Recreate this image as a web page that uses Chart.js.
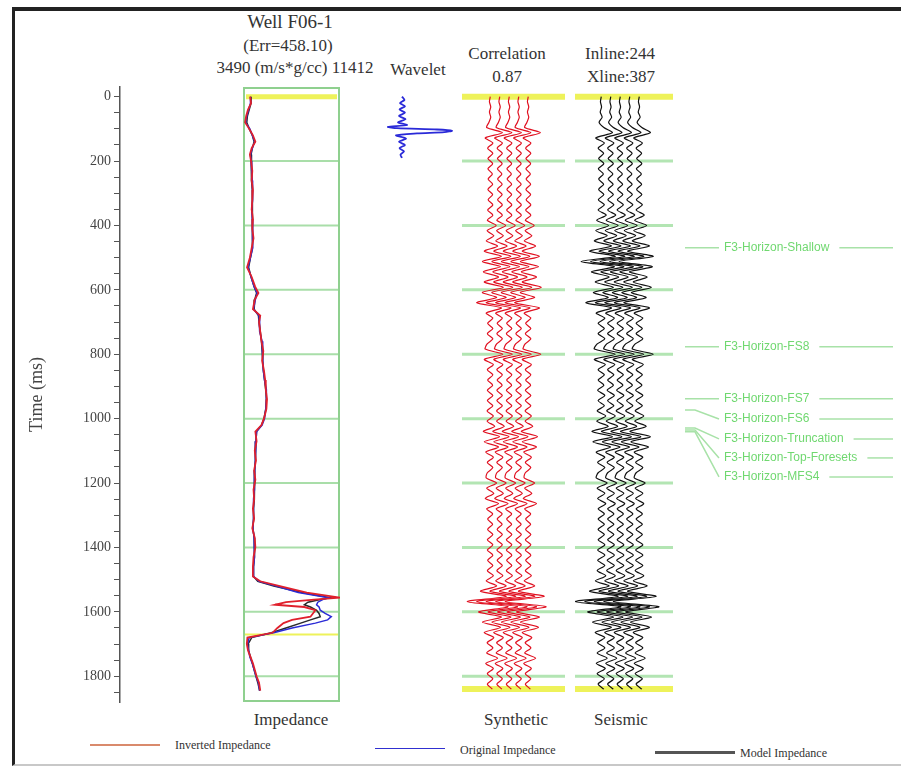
<!DOCTYPE html>
<html lang="en">
<head>
<meta charset="UTF-8">
<title>Well F06-1 well tie</title>
<script src="https://cdn.jsdelivr.net/npm/chart.js"></script>
<style>
  body { margin: 0; background: #fff; }
  #page { position: relative; width: 901px; height: 767px; overflow: hidden; font-family: "Liberation Serif", serif; color: #333; }
  #page canvas { position: absolute; top: 0; }
  .frame { position: absolute; left: 12px; top: 7px; width: 900px; height: 753px; border-top: 4px solid #222; border-left: 3px solid #222; border-bottom: 2px solid #c8c8c8; }
  .t { position: absolute; transform: translate(-50%, -50%); white-space: nowrap; font-size: 17px; }
  .lg { position: absolute; }
  .lgt { position: absolute; font-size: 12px; transform: translateY(-50%); white-space: nowrap; }
</style>
</head>
<body>
<div id="page">
  <div class="frame"></div>

  <div class="t" style="left:290px; top:22px; font-size:19px;">Well F06-1</div>
  <div class="t" style="left:288px; top:46px;">(Err=458.10)</div>
  <div class="t" style="left:295px; top:68px;">3490 (m/s*g/cc) 11412</div>
  <div class="t" style="left:418px; top:70px;">Wavelet</div>
  <div class="t" style="left:507px; top:54px;">Correlation</div>
  <div class="t" style="left:507px; top:77px;">0.87</div>
  <div class="t" style="left:620px; top:54px;">Inline:244</div>
  <div class="t" style="left:621px; top:77px;">Xline:387</div>
  <div class="t" style="left:291px; top:720px;">Impedance</div>
  <div class="t" style="left:516px; top:720px;">Synthetic</div>
  <div class="t" style="left:621px; top:720px;">Seismic</div>

  <div class="lg" style="left:90px; top:744px; width:70px; height:2px; background:#d98a6c;"></div>
  <div class="lgt" style="left:175px; top:745px;">Inverted Impedance</div>
  <div class="lg" style="left:375px; top:748px; width:70px; height:1px; background:#3030d0;"></div>
  <div class="lgt" style="left:460px; top:750px;">Original Impedance</div>
  <div class="lg" style="left:655px; top:751px; width:80px; height:3px; background:#555;"></div>
  <div class="lgt" style="left:740px; top:753px;">Model Impedance</div>

  <canvas id="axisChart" width="130" height="767" style="left:0px;"></canvas>
  <canvas id="impChart" width="97" height="767" style="left:243px;"></canvas>
  <canvas id="waveChart" width="90" height="767" style="left:375px;"></canvas>
  <canvas id="synChart" width="103" height="767" style="left:462px;"></canvas>
  <canvas id="seisChart" width="98" height="767" style="left:575px;"></canvas>
  <canvas id="horChart" width="221" height="767" style="left:680px;"></canvas>
</div>

<script>
// time axis (ms)
const timeMin = -30, timeMax = 1880;
const timeTicks = [0, 200, 400, 600, 800, 1000, 1200, 1400, 1600, 1800];
const minorStep = 50;
const gridTimes = [200, 400, 600, 800, 1000, 1200, 1400, 1600, 1800];
const impYellowTimes = [0, 1670];
const traceYellowTimes = [0, 1840];

// impedance log (m/s*g/cc)
const impMin = 3490, impMax = 11412;
const impTime = [0,20,40,60,80,100,120,140,160,180,200,
  230,260,290,320,350,380,410,440,470,500,530,560,590,
  610,630,660,680,700,
  730,760,790,820,850,880,910,940,970,1000,
  1020,1040,
  1070,1100,1130,1160,1190,1220,1250,1280,1310,1340,1370,1400,1430,1460,1490,
  1505,1520,1540,1556,1562,1570,1578,1585,1595,1605,1615,1625,1635,1650,1665,1680,
  1700,1720,1740,1760,1780,1800,1820,1845];
const impInverted = [4070,4150,3900,3750,3660,4000,4300,4500,4200,4050,4150,
  4250,4200,4300,4250,4200,4300,4250,4350,4200,4050,3820,4200,4480,
  4750,4450,4300,4900,4800,
  4900,5000,5150,5050,5200,5300,5350,5450,5400,5200,
  5000,4500,
  4600,4450,4550,4400,4500,4350,4400,4300,4400,4250,4450,4500,4350,4300,4300,
  4900,6500,8700,11400,9300,7000,6100,8500,9400,9200,9000,7500,6800,6300,5900,3850,
  3800,3900,4100,4300,4450,4600,4800,4900];
const impOriginal = [4100,4100,3950,3800,3700,4050,4250,4450,4250,4100,4150,
  4200,4250,4250,4300,4200,4250,4300,4300,4250,4100,3900,4150,4400,
  4650,4500,4350,4800,4850,
  4850,5050,5100,5100,5150,5250,5400,5400,5350,5250,
  5050,4600,
  4550,4500,4500,4450,4450,4400,4350,4350,4350,4300,4400,4450,4400,4350,4350,
  4800,6200,8000,10500,10000,9600,9500,9700,9800,10200,10700,10400,9400,7500,6000,4000,
  3850,3950,4050,4250,4400,4550,4750,4850];
const impModel = [4150,4150,4000,3850,3800,4000,4250,4400,4250,4150,4150,
  4200,4200,4250,4250,4250,4250,4250,4300,4250,4100,3950,4150,4400,
  4600,4450,4400,4750,4800,
  4900,5000,5050,5100,5150,5250,5350,5400,5350,5200,
  5000,4600,
  4550,4500,4500,4450,4450,4400,4400,4350,4350,4300,4400,4450,4400,4350,4350,
  4700,6000,8300,10600,9800,8800,8500,9000,9500,9700,9800,9000,8200,7000,5800,4200,
  3900,3950,4100,4250,4400,4550,4700,4850];

// wavelet (ms, normalised amplitude)
const waveTime = [0,10,20,30,40,50,60,70,80,88,94,98,102,106,110,114,120,130,140,150,160,170,180,190];
const waveAmp = [0,0.05,-0.04,0.06,-0.05,0.06,-0.06,0.07,-0.08,0.1,-0.28,-0.1,0.7,1.0,0.85,0.3,-0.12,0.08,-0.06,0.06,-0.05,0.04,-0.03,0];

// traces, sampled every 16 ms
const sampleStep = 16;
const traceCount = 5;
const synAmp = [
  0.03,-0.06,0.08,-0.06,0.08,-0.12,-0.35,1.30,-0.50,0.30,
  -0.25,0.30,-0.22,0.28,-0.22,0.25,-0.20,0.28,-0.22,0.28,
  -0.20,0.30,-0.25,0.30,-0.28,0.65,-0.30,0.40,-0.40,0.80,
  -0.60,1.20,-0.80,1.10,-0.70,0.90,-0.60,1.40,-0.80,0.70,
  -1.40,1.20,-0.40,0.30,-0.25,0.30,-0.28,0.30,-0.30,-0.50,
  1.35,-0.60,0.35,-0.28,0.30,-0.25,0.28,-0.28,0.30,-0.28,
  0.30,-0.30,0.35,-0.30,0.50,-0.70,1.00,-0.60,0.90,-0.45,
  0.35,-0.28,0.30,-0.28,-0.40,0.70,-0.35,0.40,-0.50,0.90,
  -0.35,0.28,-0.25,0.28,-0.25,0.30,-0.28,0.30,-0.28,0.30,
  -0.25,0.30,-0.28,0.35,-0.40,0.70,-1.00,1.70,-2.40,1.90,
  -1.20,1.20,-0.80,1.10,-0.60,0.40,-0.30,0.30,-0.35,0.80,
  -0.45,0.35,-0.28,0.30,-0.28,0.25];
const seisAmp = [
  0.03,-0.06,0.06,-0.08,0.12,-0.20,0.30,1.20,-0.55,0.35,
  -0.30,0.28,-0.25,0.30,-0.28,0.25,-0.25,0.28,-0.25,0.30,
  -0.28,0.35,-0.30,0.55,-0.45,0.80,-0.55,0.65,-0.70,1.10,
  -1.20,1.50,-2.10,1.40,-1.00,0.85,-0.60,1.30,-0.80,0.75,
  -1.60,1.10,-0.50,0.40,-0.30,0.35,-0.30,0.40,-0.40,-0.70,
  1.50,-0.70,0.45,-0.30,0.35,-0.30,0.30,-0.35,0.40,-0.30,
  0.35,-0.40,0.50,-0.45,0.75,-0.95,1.20,-0.85,1.00,-0.50,
  0.40,-0.35,0.40,-0.30,-0.50,0.65,-0.40,0.40,-0.35,0.50,
  -0.30,0.35,-0.30,0.35,-0.30,0.35,-0.30,0.40,-0.35,0.40,
  -0.35,0.40,-0.40,0.50,-0.60,0.85,-1.20,1.80,-2.70,2.10,
  -1.40,1.30,-0.90,1.10,-0.60,0.40,-0.35,0.40,-0.40,0.65,
  -0.50,0.45,-0.40,0.35,-0.30,0.30];
const traceTime = synAmp.map((_, i) => i * sampleStep);

// horizons
const horizonNames = ['F3-Horizon-Shallow', 'F3-Horizon-FS8', 'F3-Horizon-FS7', 'F3-Horizon-FS6',
  'F3-Horizon-Truncation', 'F3-Horizon-Top-Foresets', 'F3-Horizon-MFS4'];
const horizonTimes = [469, 777, 938, 973, 1029, 1035, 1041];
const horizonLabelTimes = [469, 777, 938, 1001, 1063, 1122, 1181];

Chart.defaults.font.family = '"Liberation Serif", serif';
Chart.defaults.animation = false;

const panelDecor = {
  id: 'panelDecor',
  beforeDatasetsDraw(chart, args, o) {
    const { ctx, chartArea: a, scales: { y } } = chart;
    ctx.save();
    (o.lines || []).forEach(l => {
      ctx.strokeStyle = l.color;
      ctx.lineWidth = l.width;
      l.times.forEach(t => {
        const py = y.getPixelForValue(t);
        ctx.beginPath();
        ctx.moveTo(a.left + (l.inset || 0), py);
        ctx.lineTo(a.right - (l.inset || 0), py);
        ctx.stroke();
      });
    });
    if (o.box) {
      ctx.strokeStyle = o.box;
      ctx.lineWidth = 2;
      ctx.strokeRect(a.left + 1, a.top + 1, a.right - a.left - 2, a.bottom - a.top - 2);
    }
    ctx.restore();
  }
};

const horizonLabels = {
  id: 'horizonLabels',
  afterDraw(chart) {
    const { ctx, chartArea: a, scales: { y } } = chart;
    ctx.save();
    ctx.font = '12px "Liberation Sans", sans-serif';
    ctx.textBaseline = 'middle';
    horizonNames.forEach((name, i) => {
      const yh = y.getPixelForValue(horizonTimes[i]);
      const yl = y.getPixelForValue(horizonLabelTimes[i]);
      const x0 = a.left + 5, xt = a.left + 44;
      ctx.strokeStyle = '#a8e2a8';
      ctx.lineWidth = 1.5;
      ctx.beginPath();
      ctx.moveTo(x0, yh);
      ctx.lineTo(x0 + 10, yh);
      ctx.lineTo(xt - 5, yl);
      ctx.stroke();
      ctx.fillStyle = '#70d870';
      ctx.fillText(name, xt, yl);
      const end = xt + ctx.measureText(name).width + 10;
      if (a.right - 8 - end > 10) {
        ctx.beginPath();
        ctx.moveTo(end, yl);
        ctx.lineTo(a.right - 8, yl);
        ctx.stroke();
      }
    });
    ctx.restore();
  }
};

function hiddenScales(xMin, xMax) {
  return {
    x: { type: 'linear', display: false, min: xMin, max: xMax },
    y: { type: 'linear', display: false, min: timeMin, max: timeMax, reverse: true }
  };
}

function panel(id, datasets, xMin, xMax, decor, plugins) {
  return new Chart(document.getElementById(id), {
    type: 'scatter',
    data: { datasets: datasets },
    options: {
      responsive: false,
      devicePixelRatio: 1,
      layout: { padding: { top: 87, bottom: 65, left: 0, right: 0 } },
      scales: hiddenScales(xMin, xMax),
      plugins: { legend: { display: false }, tooltip: { enabled: false }, panelDecor: decor || {} }
    },
    plugins: [panelDecor].concat(plugins || [])
  });
}

function curve(xs, ys, color, width, tension) {
  return {
    data: ys.map((t, i) => ({ x: xs[i], y: t })),
    showLine: true, borderColor: color, borderWidth: width,
    pointRadius: 0, tension: tension || 0, fill: false
  };
}

function traceSets(amps, color) {
  const sets = [];
  for (let k = 1; k <= traceCount; k++) {
    sets.push(curve(amps.map(a => k + a), traceTime, color, 1.2, 0.25));
  }
  return sets;
}

// time axis
new Chart(document.getElementById('axisChart'), {
  type: 'scatter',
  data: { datasets: [] },
  options: {
    responsive: false,
    devicePixelRatio: 1,
    layout: { padding: { top: 87, bottom: 65, left: 22, right: 0 } },
    scales: {
      x: { type: 'linear', display: false, min: 0, max: 1 },
      y: {
        type: 'linear', min: timeMin, max: timeMax, reverse: true,
        afterBuildTicks: s => {
          const ticks = [];
          for (let v = timeTicks[0]; v <= 1850; v += minorStep) ticks.push({ value: v });
          s.ticks = ticks;
        },
        afterFit: s => { s.width = 98; },
        ticks: {
          autoSkip: false, padding: 3, color: '#444',
          font: { size: 14 },
          callback: v => timeTicks.includes(v) ? String(v) : ''
        },
        grid: { drawOnChartArea: false, tickLength: 6, color: '#555' },
        border: { color: '#555', width: 1.5 },
        title: { display: true, text: 'Time (ms)', color: '#444', font: { size: 18 }, padding: 4 }
      }
    },
    plugins: { legend: { display: false }, tooltip: { enabled: false } }
  }
});

// impedance panel (first dataset is drawn on top)
panel('impChart', [
  curve(impInverted, impTime, '#e0202c', 1.8),
  curve(impOriginal, impTime, '#2b2bd6', 1.5),
  curve(impModel, impTime, '#2a2a2a', 1.5)
], impMin, impMax, {
  box: '#8fd08f',
  lines: [
    { times: gridTimes, color: '#a9dea9', width: 2 },
    { times: [impYellowTimes[0]], color: '#eef25a', width: 5, inset: 3 },
    { times: [impYellowTimes[1]], color: '#eef25a', width: 2 }
  ]
});

// wavelet
panel('waveChart', [curve(waveAmp, waveTime, '#2a2ad8', 1.8, 0.25)], -0.54, 1.26);

// synthetic and seismic traces
const traceDecor = {
  lines: [
    { times: gridTimes, color: '#b3e5b3', width: 3 },
    { times: traceYellowTimes, color: '#eef25a', width: 6 }
  ]
};
panel('synChart', traceSets(synAmp, '#e01020'), -1.947, 8.895, traceDecor);
panel('seisChart', traceSets(seisAmp, '#111111'), -1.737, 8.579, traceDecor);

// horizon labels
panel('horChart', [], 0, 1, {}, [horizonLabels]);
</script>
</body>
</html>
